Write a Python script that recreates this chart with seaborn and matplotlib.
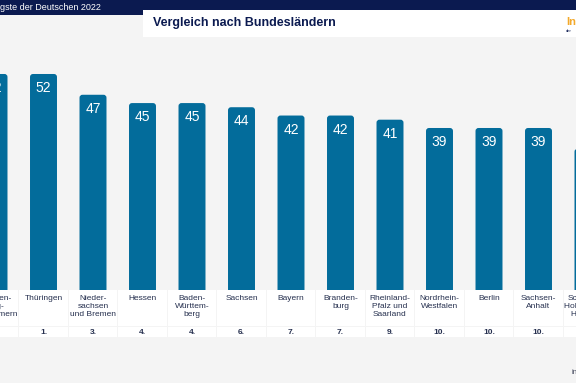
import matplotlib
matplotlib.use("Agg")
import matplotlib.pyplot as plt
from matplotlib.patches import Rectangle, FancyBboxPatch
import seaborn as sns

# data
laender = ["Mecklen-\nburg-\nVorpommern", "Thüringen", "Nieder-\nsachsen\nund Bremen", "Hessen",
           "Baden-\nWürttem-\nberg", "Sachsen", "Bayern", "Branden-\nburg",
           "Rheinland-\nPfalz und\nSaarland", "Nordrhein-\nWestfalen", "Berlin",
           "Sachsen-\nAnhalt", "Schleswig-\nHolstein und\nHamburg"]
werte = [52, 52, 47, 45, 45, 44, 42, 42, 41, 39, 39, 39, 34]
raenge = ["1.", "1.", "3.", "4.", "4.", "6.", "7.", "7.", "9.", "10.", "10.", "10.", "13."]

oben_text = "gste der Deutschen 2022"
titel = "Vergleich nach Bundesländern"

BG = "#f4f4f4"
NAVY = "#0b1a50"
BAR = "#036c9b"
TXT = "#26304f"

sns.set_theme(style="white")
plt.rcParams['font.family'] = ['Liberation Sans', 'DejaVu Sans']

W, H = 576, 383
fig = plt.figure(figsize=(W / 100, H / 100), dpi=100, facecolor=BG)

# pixel helpers
px_per_cat = 49.5
x0 = 6 / px_per_cat
xlim = (x0, x0 + W / px_per_cat)
y_top, y_base = 60, 290
px_per_unit = 4.154

# header layer in pixel coordinates
hdr = fig.add_axes([0, 0, 1, 1])
hdr.set_xlim(0, W)
hdr.set_ylim(H, 0)
hdr.axis("off")
hdr.add_patch(Rectangle((0, 0), 143, 15, color=NAVY, lw=0))
hdr.add_patch(Rectangle((143, 0), W - 143, 10, color=NAVY, lw=0))
hdr.add_patch(Rectangle((143, 10), W - 143, 27, color="white", lw=0))
hdr.text(0, 7.5, oben_text, color="white", fontsize=6.5, va="center", ha="left")
hdr.text(153, 23, titel, color=NAVY, fontsize=9, fontweight="bold", va="center", ha="left")
hdr.text(566, 22, "In", color="#f3a92b", fontsize=8, fontweight="bold", va="center", ha="left")
hdr.text(566, 31, "der", color=NAVY, fontsize=3, va="center", ha="left")
hdr.text(571, 373, "in", color="#3a3f55", fontsize=5.5, va="center", ha="left")

# bars
ax = fig.add_axes([0, (H - y_base) / H, 1, (y_base - y_top) / H])
ax.set_facecolor(BG)
sns.barplot(x=list(range(len(werte))), y=werte, ax=ax, color=BAR, width=0.545,
            saturation=1, native_scale=True)
ax.set_xlim(*xlim)
ax.set_ylim(0, (y_base - y_top) / px_per_unit)
ax.axis("off")

# round the top corners
aspect = (1 / px_per_unit) / (1 / px_per_cat)
for p in list(ax.patches):
    x, w, h = p.get_x(), p.get_width(), p.get_height()
    p.remove()
    ax.add_patch(FancyBboxPatch((x, -3), w, h + 3,
                                boxstyle="round,pad=0,rounding_size=0.06",
                                mutation_aspect=aspect, fc=BAR, ec="none"))

for i, v in enumerate(werte):
    ax.text(i, v - 14 / px_per_unit, str(v), ha="center", va="center",
            color="white", fontsize=10)

# table with names and ranks
tab = fig.add_axes([0, (H - 338) / H, 1, 48 / H])
tab.set_xlim(*xlim)
tab.set_ylim(338, 290)
tab.axis("off")
gap = 1 / px_per_cat
for i, (name, rang) in enumerate(zip(laender, raenge)):
    tab.add_patch(Rectangle((i - 0.5 + gap / 2, 290), 1 - gap, 36, fc="white", ec="none"))
    tab.add_patch(Rectangle((i - 0.5 + gap / 2, 327), 1 - gap, 10, fc="white", ec="none"))
    tab.text(i, 294.5, name, ha="center", va="top", fontsize=6, color=TXT,
             linespacing=1.25)
    tab.text(i, 332, rang, ha="center", va="center", fontsize=6, color=TXT,
             fontweight="bold")

fig.savefig("out.png", dpi=100, facecolor=BG)
